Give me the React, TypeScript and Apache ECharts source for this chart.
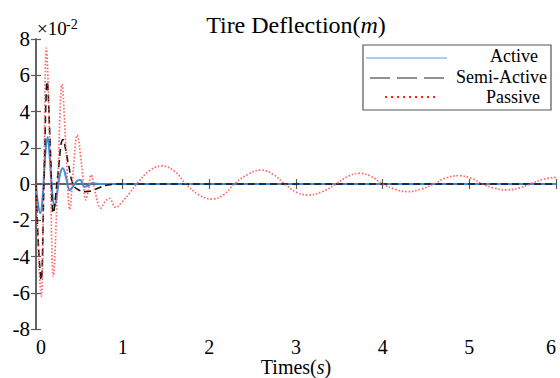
import React, { useEffect, useRef } from "react";
import * as echarts from "echarts";

const xTicks = [0, 1, 2, 3, 4, 5, 6];
const yTicks = [-8, -6, -4, -2, 0, 2, 4, 6, 8];

const activeT = [0, 0.02, 0.05, 0.08, 0.105, 0.134, 0.16, 0.19, 0.214, 0.25, 0.28, 0.31, 0.35, 0.39, 0.44, 0.48, 0.51, 0.56, 0.6, 0.65, 0.7, 0.75, 0.85, 1.0, 6.0];
const activeY = [0, -1.0, -1.62, -0.5, 1.5, 2.6, 1.4, -0.6, -1.25, -0.3, 0.6, 0.87, 0.3, -0.33, -0.05, 0.2, 0.22, -0.15, -0.1, 0.05, 0.02, 0.0, 0.0, 0.0, 0.0];

const semiT = [0, 0.03, 0.06, 0.09, 0.13, 0.165, 0.2, 0.25, 0.31, 0.37, 0.43, 0.5, 0.56, 0.64, 0.72, 0.8, 0.88, 0.95, 6.0];
const semiY = [0, -3.6, -5.3, -0.3, 5.65, 2.0, -1.6, 0.4, 2.45, 1.2, -0.05, -0.35, -0.42, -0.38, -0.22, -0.08, -0.02, 0, 0];

const passiveT = [0, 0.03, 0.06, 0.09, 0.12, 0.16, 0.2, 0.25, 0.3, 0.345, 0.39, 0.43, 0.475, 0.53, 0.575, 0.605, 0.635, 0.69, 0.745, 0.8, 0.845, 0.92, 1.0, 1.08, 1.17, 1.3, 1.45, 1.6, 1.73, 1.88, 2.03, 2.17, 2.29, 2.45, 2.6, 2.74, 2.87, 3.0, 3.14, 3.3, 3.46, 3.6, 3.73, 3.87, 4.0, 4.15, 4.29, 4.44, 4.59, 4.73, 4.88, 5.02, 5.15, 5.29, 5.43, 5.57, 5.7, 5.85, 6.0];
const passiveY = [0, -4.0, -6.2, 0.5, 7.5, 2.0, -5.1, 0.0, 5.5, 2.0, -1.4, 0.8, 2.7, 0.9, -0.88, -0.3, 0.5, -0.6, -1.33, -0.95, -0.79, -1.29, -0.95, -0.5, 0.04, 0.7, 1.0, 0.7, 0, -0.6, -0.83, -0.58, 0, 0.55, 0.77, 0.52, 0, -0.44, -0.61, -0.43, 0, 0.42, 0.59, 0.42, 0, -0.3, -0.42, -0.29, 0, 0.33, 0.46, 0.32, 0, -0.23, -0.33, -0.23, 0, 0.26, 0.37];

const legendNames = ["Active", "Semi-Active", "Passive"];

const FONT = "'Liberation Serif', 'Times New Roman', serif";
const AXIS_COLOR = "#5a5a5a";

const zip = (t: number[], y: number[]) => t.map((v, i) => [v, y[i]]);

export default function App() {
  const ref = useRef<HTMLDivElement>(null);
  useEffect(() => {
    const chart = echarts.init(ref.current!, null, { renderer: "svg" });
    const axisCommon = {
      axisLine: { show: true, lineStyle: { color: AXIS_COLOR, width: 1.5 } },
      axisTick: { show: true, inside: true, length: 5, lineStyle: { color: AXIS_COLOR, width: 1.2 } },
      splitLine: { show: false },
    };
    chart.setOption({
      animation: false,
      backgroundColor: "#fff",
      textStyle: { fontFamily: FONT },
      grid: { left: 36, right: 4, top: 39, bottom: 49, containLabel: false, outerBoundsMode: "none" },
      xAxis: [
        {
          type: "value",
          min: xTicks[0],
          max: xTicks[xTicks.length - 1],
          interval: 1,
          position: "bottom",
          ...axisCommon,
          axisLabel: {
            color: "#000",
            fontFamily: FONT,
            fontSize: 20,
            margin: 8,
            alignMinLabel: "left",
            alignMaxLabel: "right",
          },
          name: "Times({i|s})",
          nameLocation: "middle",
          nameGap: 29,
          nameMoveOverlap: false,
          nameTextStyle: {
            color: "#000",
            fontFamily: FONT,
            fontSize: 20,
            lineHeight: 18,
            rich: { i: { fontStyle: "italic", fontFamily: FONT, fontSize: 20, lineHeight: 18, color: "#000" } },
          },
        },
        {
          type: "value",
          min: xTicks[0],
          max: xTicks[xTicks.length - 1],
          interval: 1,
          position: "top",
          ...axisCommon,
          axisLabel: { show: false },
        },
      ],
      yAxis: [
        {
          type: "value",
          min: yTicks[0],
          max: yTicks[yTicks.length - 1],
          interval: 2,
          position: "left",
          ...axisCommon,
          axisLabel: { color: "#000", fontFamily: FONT, fontSize: 21, margin: 6 },
        },
        {
          type: "value",
          min: yTicks[0],
          max: yTicks[yTicks.length - 1],
          interval: 2,
          position: "right",
          ...axisCommon,
          axisLabel: { show: false },
        },
      ],
      series: [
        {
          name: legendNames[0],
          type: "line",
          data: zip(activeT, activeY),
          showSymbol: false,
          smooth: 0.4,
          lineStyle: { color: "#3b8ede", width: 2 },
          z: 2,
        },
        {
          name: legendNames[1],
          type: "line",
          data: zip(semiT, semiY),
          showSymbol: false,
          smooth: 0.4,
          lineStyle: { color: "#111", width: 1.6, type: [7, 4] },
          z: 3,
        },
        {
          name: legendNames[2],
          type: "line",
          data: zip(passiveT, passiveY),
          showSymbol: false,
          smooth: 0.4,
          lineStyle: { color: "#ff4f4f", width: 1.7, type: [1.6, 1.8], opacity: 0.85 },
          z: 4,
        },
      ],
      graphic: [
        {
          type: "text",
          x: 296,
          y: 25,
          style: {
            text: "{a|Tire Deflection(}{b|m}{a|)}",
            align: "center",
            verticalAlign: "middle",
            rich: {
              a: { fontFamily: FONT, fontSize: 24, fill: "#000" },
              b: { fontFamily: FONT, fontSize: 24, fontStyle: "italic", fill: "#000" },
            },
          },
        },
        {
          type: "text",
          x: 37,
          y: 28,
          style: { text: "×10", fontFamily: FONT, fontSize: 19, fill: "#000", verticalAlign: "middle", align: "left" },
        },
        {
          type: "text",
          x: 66,
          y: 24,
          style: { text: "-2", fontFamily: FONT, fontSize: 14, fill: "#000", verticalAlign: "middle", align: "left" },
        },
        {
          type: "rect",
          shape: { x: 363, y: 45, width: 188, height: 65 },
          style: { fill: "#fff", stroke: "#555", lineWidth: 1.2 },
          z: 10,
        },
        {
          type: "line",
          shape: { x1: 366, y1: 58, x2: 447, y2: 58 },
          style: { stroke: "#8fbbe8", lineWidth: 1.6 },
          z: 11,
        },
        {
          type: "line",
          shape: { x1: 370, y1: 78, x2: 444, y2: 78 },
          style: { stroke: "#222", lineWidth: 1.2, lineDash: [20, 7] },
          z: 11,
        },
        {
          type: "line",
          shape: { x1: 385, y1: 97, x2: 437, y2: 97 },
          style: { stroke: "#ff2020", lineWidth: 2, lineDash: [2, 4] },
          z: 11,
        },
        {
          type: "text",
          x: 538,
          y: 56,
          style: { text: legendNames[0], fontFamily: FONT, fontSize: 18, fill: "#000", align: "right", verticalAlign: "middle" },
          z: 11,
        },
        {
          type: "text",
          x: 547,
          y: 77,
          style: { text: legendNames[1], fontFamily: FONT, fontSize: 18, fill: "#000", align: "right", verticalAlign: "middle" },
          z: 11,
        },
        {
          type: "text",
          x: 540,
          y: 97,
          style: { text: legendNames[2], fontFamily: FONT, fontSize: 18, fill: "#000", align: "right", verticalAlign: "middle" },
          z: 11,
        },
      ],
    });
    return () => chart.dispose();
  }, []);
  return (
    <div
      ref={ref}
      style={{ position: "absolute", left: 0, top: 0, width: 560, height: 378, background: "#fff" }}
    />
  );
}
